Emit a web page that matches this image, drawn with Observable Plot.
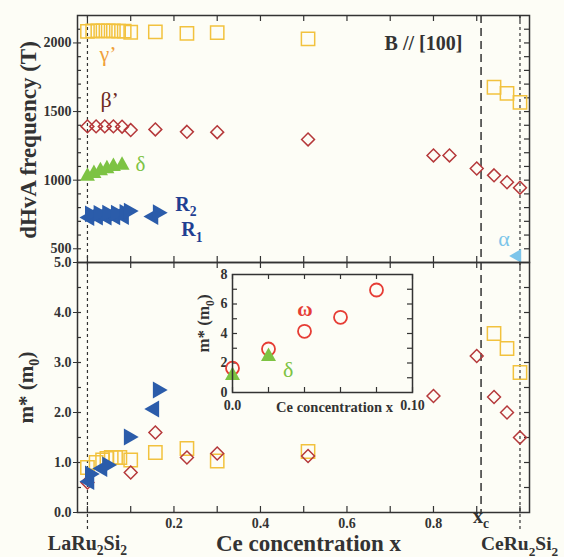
<!DOCTYPE html>
<html><head><meta charset="utf-8">
<script src="https://cdn.jsdelivr.net/npm/d3@7"></script>
<script src="https://cdn.jsdelivr.net/npm/@observablehq/plot@0.6"></script>
<style>
html,body{margin:0;padding:0;background:#fdfdf6;}
#chart{position:relative;width:564px;height:557px;overflow:hidden;}
#chart svg{position:absolute;left:0;top:0;}
</style></head><body><div id="chart"></div>
<script>
// ---------- data ----------
const xTicks = [0, 0.1, 0.2, 0.3, 0.4, 0.5, 0.6, 0.7, 0.8, 0.9, 1.0];
const xTickLabels = [0.2, 0.4, 0.6, 0.8];
const xEnds = [0, 1];
const xCrit = [0.91];
const freqTicks = [500, 1000, 1500, 2000];
const freqMinor = [500, 600, 700, 800, 900, 1000, 1100, 1200, 1300, 1400, 1500, 1600, 1700, 1800, 1900, 2000, 2100];
const massTicks = [0, 1, 2, 3, 4, 5];
const massMinor = [0.5, 1, 1.5, 2, 2.5, 3, 3.5, 4, 4.5];
const insetXTicks = [0, 0.02, 0.04, 0.06, 0.08, 0.1];
const insetXLabels = [0, 0.1];
const insetYTicks = [0, 2, 4, 6, 8];
const insetYMinor = [1, 2, 3, 4, 5, 6, 7];

// top panel: dHvA frequency (T)
const gammaX = [0, 0.012, 0.024, 0.036, 0.048, 0.06, 0.072, 0.085, 0.1, 0.157, 0.23, 0.3, 0.51, 0.94, 0.97, 1.0];
const gammaF = [2085, 2088, 2088, 2088, 2088, 2088, 2086, 2086, 2078, 2080, 2070, 2075, 2030, 1677, 1632, 1567];
const betaX = [0, 0.02, 0.04, 0.06, 0.08, 0.1, 0.157, 0.23, 0.3, 0.51, 0.8, 0.837, 0.9, 0.94, 0.97, 1.0];
const betaF = [1392, 1392, 1392, 1392, 1390, 1365, 1370, 1352, 1350, 1297, 1180, 1180, 1085, 1035, 985, 945];
const deltaX = [0, 0.015, 0.03, 0.045, 0.06, 0.08];
const deltaF = [1040, 1060, 1080, 1095, 1110, 1120];
const r1X = [0, 0.02, 0.04, 0.06, 0.08, 0.148];
const r1F = [728, 730, 730, 732, 735, 735];
const r2X = [0.01, 0.03, 0.05, 0.07, 0.09, 0.1, 0.167];
const r2F = [755, 758, 760, 760, 765, 775, 763];
const alphaX = [0.99];
const alphaF = [448];

// bottom panel: m* (m0)
const gammaMX = [0, 0.02, 0.035, 0.045, 0.055, 0.065, 0.075, 0.1, 0.157, 0.23, 0.3, 0.51, 0.94, 0.97, 1.0];
const gammaM = [0.9, 1.0, 1.05, 1.08, 1.1, 1.1, 1.1, 1.05, 1.2, 1.28, 1.03, 1.22, 3.58, 3.28, 2.8];
const betaMX = [0, 0.1, 0.157, 0.23, 0.3, 0.51, 0.8, 0.9, 0.94, 0.97, 1.0];
const betaM = [0.6, 0.8, 1.6, 1.1, 1.18, 1.13, 2.33, 3.13, 2.31, 2.0, 1.5];
const r1MX = [0, 0.03, 0.15];
const r1M = [0.62, 0.88, 2.07];
const r2MX = [0.01, 0.05, 0.1, 0.167];
const r2M = [0.77, 0.95, 1.51, 2.45];

// inset
const omegaX = [0, 0.02, 0.04, 0.06, 0.08];
const omegaM = [1.65, 2.95, 4.15, 5.1, 6.95];
const deltaIX = [0, 0.02];
const deltaIM = [1.25, 2.55];

// ---------- layout / style ----------
const W = 564, H = 557;
const L = 77, R = 35, TOP1 = 15, BOT1 = 262, BOT2 = 512;
const plotW = W - L - R, h1 = BOT1 - TOP1, h2 = BOT2 - BOT1;
const xDomain = [-0.023, 1.022];
const FONT = "Liberation Serif, Times New Roman, serif";
const INK = "#333";
const SQ = "#f2c23e", DIA = "#b5383a", BLUE = "#2b5caa", GREEN = "#7dc343",
      ALPHA = "#7cc5ea", OMEGA = "#e63d35", ORANGE = "#f0a03a", BROWN = "#6e2a22", RLAB = "#1f3f92";

const pts = (xs, ys) => xs.map((x, i) => ({x, y: ys[i]}));
function tri(dir) {
  return {draw(ctx, size) {
    const r = Math.sqrt(size / Math.PI);
    if (dir === "right") { ctx.moveTo(r, 0); ctx.lineTo(-0.85 * r, -1.05 * r); ctx.lineTo(-0.85 * r, 1.05 * r); }
    else if (dir === "left") { ctx.moveTo(-r, 0); ctx.lineTo(0.85 * r, -1.05 * r); ctx.lineTo(0.85 * r, 1.05 * r); }
    else { ctx.moveTo(0, -r); ctx.lineTo(r, 0.8 * r); ctx.lineTo(-r, 0.8 * r); }
    ctx.closePath();
  }};
}
const baseStyle = {fontFamily: FONT, fontWeight: "bold", fontSize: "14px", color: INK, overflow: "visible"};

// ---------- top panel ----------
const topPlot = Plot.plot({
  width: W, height: H, marginLeft: L, marginRight: R, marginTop: TOP1, marginBottom: H - BOT1,
  x: {domain: xDomain, axis: null},
  y: {domain: [400, 2200]},
  style: {...baseStyle, background: "#fdfdf6"},
  marks: [
    Plot.ruleX(xEnds, {stroke: INK, strokeWidth: 1.2, strokeDasharray: "3,3"}),
    Plot.ruleX(xCrit, {stroke: INK, strokeWidth: 1.5, strokeDasharray: "8,5"}),
    Plot.tickX(xTicks, {x: d => d, insetBottom: h1 - 6, stroke: INK, strokeWidth: 1.2}),
    Plot.tickX(xTicks, {x: d => d, insetTop: h1 - 6, stroke: INK, strokeWidth: 1.2}),
    Plot.tickY(freqMinor, {y: d => d, insetLeft: plotW - 5, stroke: INK, strokeWidth: 1.2}),
    Plot.tickY(freqMinor, {y: d => d, insetRight: plotW - 4, stroke: INK, strokeWidth: 1.2}),
    Plot.axisY({ticks: freqTicks, tickSize: 4, tickPadding: 2, tickFormat: "d", label: null, fontSize: 14}),
    Plot.dot(pts(gammaX, gammaF), {x: "x", y: "y", symbol: "square", r: 7.5, stroke: SQ, strokeWidth: 1.5, fill: "none"}),
    Plot.dot(pts(betaX, betaF), {x: "x", y: "y", symbol: "diamond2", r: 5.8, stroke: DIA, strokeWidth: 1.5, fill: "none"}),
    Plot.dot(pts(deltaX, deltaF), {x: "x", y: "y", symbol: tri("up"), r: 7.5, fill: GREEN, stroke: "none"}),
    Plot.dot(pts(r1X, r1F), {x: "x", y: "y", symbol: tri("left"), r: 8, fill: BLUE, stroke: "none"}),
    Plot.dot(pts(r2X, r2F), {x: "x", y: "y", symbol: tri("right"), r: 8, fill: BLUE, stroke: "none"}),
    Plot.dot(pts(alphaX, alphaF), {x: "x", y: "y", symbol: tri("left"), r: 6.5, fill: ALPHA, stroke: "none"}),
    Plot.text(["γ’"], {x: 0.028, y: 1866, textAnchor: "start", lineAnchor: "bottom", fill: ORANGE, fontSize: 22, fontWeight: "normal"}),
    Plot.text(["β’"], {x: 0.03, y: 1530, textAnchor: "start", lineAnchor: "bottom", fill: BROWN, fontSize: 22, fontWeight: "normal"}),
    Plot.text(["δ"], {x: 0.111, y: 1070, textAnchor: "start", lineAnchor: "bottom", fill: GREEN, fontSize: 21, fontWeight: "normal"}),
    Plot.text(["R_2"], {x: 0.203, y: 778, textAnchor: "start", lineAnchor: "bottom", fill: RLAB, fontSize: 20}),
    Plot.text(["R_1"], {x: 0.217, y: 590, textAnchor: "start", lineAnchor: "bottom", fill: RLAB, fontSize: 20}),
    Plot.text(["α"], {x: 0.95, y: 523, textAnchor: "start", lineAnchor: "bottom", fill: ALPHA, fontSize: 22, fontWeight: "normal"}),
    Plot.text(["B // [100]"], {x: 0.687, y: 1947, textAnchor: "start", lineAnchor: "bottom", fill: INK, fontSize: 20}),
    Plot.text(["dHvA frequency (T)"], {frameAnchor: "left", textAnchor: "middle", dx: -49, dy: 1, rotate: -90, fontSize: 23, fill: INK}),
    Plot.frame({stroke: INK, strokeWidth: 1.5})
  ]
});

// ---------- bottom panel ----------
const botPlot = Plot.plot({
  width: W, height: H, marginLeft: L, marginRight: R, marginTop: BOT1, marginBottom: H - BOT2,
  x: {domain: xDomain},
  y: {domain: [0, 5]},
  style: baseStyle,
  marks: [
    Plot.ruleX(xEnds, {stroke: INK, strokeWidth: 1.2, strokeDasharray: "3,3", insetBottom: -18}),
    Plot.ruleX(xCrit, {stroke: INK, strokeWidth: 1.5, strokeDasharray: "8,5"}),
    Plot.tickX(xTicks, {x: d => d, insetBottom: h2 - 6, stroke: INK, strokeWidth: 1.2}),
    Plot.tickX(xTicks, {x: d => d, insetTop: h2 - 6, stroke: INK, strokeWidth: 1.2}),
    Plot.tickY(massMinor, {y: d => d, insetLeft: plotW - 5, stroke: INK, strokeWidth: 1.2}),
    Plot.tickY(massMinor, {y: d => d, insetRight: plotW - 4, stroke: INK, strokeWidth: 1.2}),
    Plot.axisY({ticks: massTicks, tickSize: 4, tickPadding: 2, tickFormat: ".1f", label: null, fontSize: 14}),
    Plot.axisX({ticks: xTickLabels, tickSize: 0, tickPadding: 6, tickFormat: ".1f", label: null, fontSize: 14}),
    Plot.dot(pts(gammaMX, gammaM), {x: "x", y: "y", symbol: "square", r: 7.5, stroke: SQ, strokeWidth: 1.5, fill: "none"}),
    Plot.dot(pts(betaMX, betaM), {x: "x", y: "y", symbol: "diamond2", r: 5.8, stroke: DIA, strokeWidth: 1.5, fill: "none"}),
    Plot.dot(pts(r1MX, r1M), {x: "x", y: "y", symbol: tri("left"), r: 8, fill: BLUE, stroke: "none"}),
    Plot.dot(pts(r2MX, r2M), {x: "x", y: "y", symbol: tri("right"), r: 8, fill: BLUE, stroke: "none"}),
    Plot.text(["m* (m_0)"], {frameAnchor: "left", textAnchor: "middle", dx: -51, rotate: -90, fontSize: 21, fill: INK}),
    Plot.text(["Ce concentration x"], {frameAnchor: "bottom", dx: 5, dy: 38, lineAnchor: "bottom", fontSize: 23, fill: INK}),
    Plot.text(["LaRu_2Si_2"], {x: 0, frameAnchor: "bottom", dy: 37, lineAnchor: "bottom", fontSize: 20, fill: INK}),
    Plot.text(["CeRu_2Si_2"], {x: 1, frameAnchor: "bottom", dx: -39, dy: 37.5, textAnchor: "start", lineAnchor: "bottom", fontSize: 19.5, fill: INK}),
    Plot.text(["x_c"], {x: xCrit[0], frameAnchor: "bottom", dx: 0, dy: 10, lineAnchor: "bottom", fontSize: 20, fill: INK}),
    Plot.frame({stroke: INK, strokeWidth: 1.5})
  ]
});

// ---------- inset ----------
const IL = 232, IR = 412, IT = 274, IB = 392;
const iw = IR - IL, ih = IB - IT;
const insetPlot = Plot.plot({
  width: W, height: H, marginLeft: IL, marginRight: W - IR, marginTop: IT, marginBottom: H - IB,
  x: {domain: [0, 0.1]},
  y: {domain: [0, 8]},
  style: baseStyle,
  marks: [
    Plot.tickX(insetXTicks, {x: d => d, insetBottom: ih - 5, stroke: INK, strokeWidth: 1.2}),
    Plot.tickX(insetXTicks, {x: d => d, insetTop: ih - 5, stroke: INK, strokeWidth: 1.2}),
    Plot.tickY(insetYMinor, {y: d => d, insetLeft: iw - 5, stroke: INK, strokeWidth: 1.2}),
    Plot.tickY(insetYMinor, {y: d => d, insetRight: iw - 5, stroke: INK, strokeWidth: 1.2}),
    Plot.axisY({ticks: insetYTicks, tickSize: 0, tickPadding: 5, label: null, fontSize: 14}),
    Plot.axisX({ticks: insetXLabels, tickSize: 0, tickPadding: 8, tickFormat: d => d === 0 ? "0.0" : "0.10", label: null, fontSize: 14}),
    Plot.dot(pts(omegaX, omegaM), {x: "x", y: "y", r: 6.5, stroke: OMEGA, strokeWidth: 1.8, fill: "none"}),
    Plot.dot(pts(deltaIX, deltaIM), {x: "x", y: "y", symbol: tri("up"), r: 7.5, fill: GREEN, stroke: "none"}),
    Plot.text(["ω"], {x: 0.036, y: 5.22, textAnchor: "start", lineAnchor: "bottom", fill: OMEGA, fontSize: 21}),
    Plot.text(["δ"], {x: 0.028, y: 1.02, textAnchor: "start", lineAnchor: "bottom", fill: GREEN, fontSize: 22, fontWeight: "normal"}),
    Plot.text(["Ce concentration x"], {frameAnchor: "bottom", dx: 12, dy: 19, lineAnchor: "bottom", fontSize: 14.5, fill: INK}),
    Plot.text(["m* (m_0)"], {frameAnchor: "left", textAnchor: "middle", dx: -29, dy: -10, rotate: -90, fontSize: 17, fill: INK}),
    Plot.frame({stroke: INK, strokeWidth: 1.5})
  ]
});

const chart = document.getElementById("chart");
chart.append(topPlot, botPlot, insetPlot);

// subscripts: "_x" renders x as a subscript
function subscripts(root) {
  root.querySelectorAll("text").forEach(t => {
    const s = t.textContent;
    if (!s.includes("_")) return;
    const fs = parseFloat(getComputedStyle(t).fontSize) || 16;
    const parts = [];
    let buf = "";
    for (let i = 0; i < s.length; i++) {
      if (s[i] === "_" && i + 1 < s.length) { if (buf) parts.push([buf, false]); parts.push([s[i + 1], true]); buf = ""; i++; }
      else buf += s[i];
    }
    if (buf) parts.push([buf, false]);
    while (t.firstChild) t.removeChild(t.firstChild);
    const off = fs * 0.28;
    let shifted = false;
    for (const [str, sub] of parts) {
      const sp = document.createElementNS("http://www.w3.org/2000/svg", "tspan");
      sp.textContent = str;
      if (sub) { sp.setAttribute("font-size", (fs * 0.68).toFixed(1)); if (!shifted) { sp.setAttribute("dy", off.toFixed(1)); shifted = true; } }
      else if (shifted) { sp.setAttribute("dy", (-off).toFixed(1)); shifted = false; }
      t.appendChild(sp);
    }
  });
}
subscripts(chart);
</script></body></html>
